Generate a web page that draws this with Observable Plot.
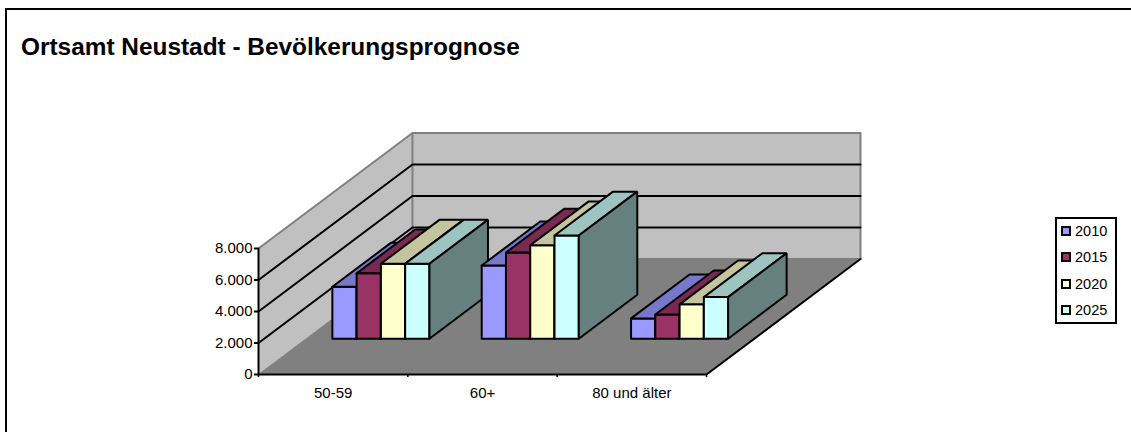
<!DOCTYPE html>
<html><head><meta charset="utf-8">
<script src="https://cdn.jsdelivr.net/npm/d3@7"></script>
<script src="https://cdn.jsdelivr.net/npm/@observablehq/plot@0.6"></script>
<style>
html,body{margin:0;padding:0;background:#fff;overflow:hidden}
#frame{position:absolute;left:5px;top:8px;width:1126px;height:424px;border-left:2px solid #000;border-top:2px solid #000;box-sizing:border-box}
#title{position:absolute;left:21px;top:33px;font:bold 24.4px "Liberation Sans",Arial,sans-serif;color:#000;white-space:nowrap}
#chart{position:absolute;left:0;top:0}
#legend{position:absolute;left:1055px;top:217px;width:62px;height:107px;box-sizing:border-box;border:2px solid #000;font:14.5px "Liberation Sans",Arial,sans-serif;color:#000;background:#fff}
#legend div{position:absolute;left:4px;height:16px;line-height:16px;white-space:nowrap}
#legend i{display:inline-block;width:6px;height:6px;border:2px solid #000;margin-right:4px;vertical-align:0}
</style></head><body>
<div id="frame"></div>
<div id="chart"></div>
<div id="title"></div>
<div id="legend"></div>
<script>
const titleText = "Ortsamt Neustadt - Bevölkerungsprognose";
const categories = ["50-59", "60+", "80 und älter"];
const years = ["2010", "2015", "2020", "2025"];
const v2010 = [3300, 4650, 1290];
const v2015 = [4150, 5470, 1540];
const v2020 = [4760, 5930, 2180];
const v2025 = [4760, 6550, 2640];
const series = [v2010, v2015, v2020, v2025];
const yTicks = [0, 2000, 4000, 6000, 8000];
const frontColors = ["#9999FF", "#993366", "#FFFFCC", "#CCFFFF"];
const topColors = ["#7777CC", "#7A2952", "#C4C49E", "#9DC4C0"];
const sideColor = "#668080";

// oblique projection: a depth d (0 front .. 1 back) shifts a point in both data dimensions
const depthX = 1.031, depthY = 7333;
const P = (c, v, d) => ({x: c + d * depthX, y: v + d * depthY});
const poly = (pts, fill, stroke, strokeWidth) =>
  Plot.line([...pts, pts[0]], {x: "x", y: "y", fill, stroke, strokeWidth, strokeLinejoin: "miter"});
const seg = (pts, stroke, strokeWidth) =>
  Plot.line(pts, {x: "x", y: "y", stroke, strokeWidth});

const maxV = 8000, nCat = categories.length;
const marks = [];
// walls and floor
marks.push(poly([P(0,0,0), P(0,maxV,0), P(0,maxV,1), P(0,0,1)], "#C0C0C0", "none"));
marks.push(poly([P(0,0,1), P(0,maxV,1), P(nCat,maxV,1), P(nCat,0,1)], "#C0C0C0", "none"));
marks.push(poly([P(0,0,0), P(0,0,1), P(nCat,0,1), P(nCat,0,0)], "#808080", "none"));
// wall outlines
marks.push(seg([P(0,0,0), P(0,0,1)], "#808080", 1));
marks.push(seg([P(0,maxV,0), P(0,maxV,1), P(nCat,maxV,1), P(nCat,0,1), P(0,0,1), P(0,maxV,1)], "#808080", 2));
// gridlines
for (const t of yTicks.slice(1, -1))
  marks.push(seg([P(0,t,0), P(0,t,1), P(nCat,t,1)], "#000", 2));
// floor front and right edges, value axis line
marks.push(seg([P(0,maxV,0), P(0,0,0), P(nCat,0,0), P(nCat,0,1)], "#000", 2));

// bars
const d0 = 0.31, d1 = 0.69, gap = 0.175, w = (1 - 2 * gap) / years.length;
categories.forEach((_, c) => {
  series.forEach((vals, s) => {
    const a = c + gap + s * w, b = a + w, v = vals[c];
    marks.push(poly([P(a,0,d0), P(a,v,d0), P(b,v,d0), P(b,0,d0)], frontColors[s], "#000", 2));
    marks.push(poly([P(a,v,d0), P(a,v,d1), P(b,v,d1), P(b,v,d0)], topColors[s], "#000", 2));
    marks.push(poly([P(b,0,d0), P(b,v,d0), P(b,v,d1), P(b,0,d1)], sideColor, "#000", 2));
  });
});

// axes
const axisFont = {fontSize: 15, fontFamily: "'Liberation Sans',Arial,sans-serif", fill: "#000"};
const fmt = d3.formatLocale({decimal: ",", thousands: ".", grouping: [3], currency: ["", "€"]}).format(",d");
marks.push(Plot.axisY({ticks: yTicks, tickFormat: fmt, tickSize: 4, tickPadding: 2, stroke: "#000", strokeWidth: 2, label: null, ...axisFont}));
marks.push(Plot.axisX({ticks: d3.range(nCat + 1), tickFormat: () => "", tickSize: 3, stroke: "#000", strokeWidth: 1.5, label: null}));
marks.push(Plot.axisX({ticks: categories.map((_, i) => i + 0.5), tickFormat: t => categories[Math.floor(t)], tickSize: 0, tickPadding: 13, label: null, ...axisFont}));

const chart = Plot.plot({
  width: 1131, height: 432,
  marginLeft: 258, marginRight: 271, marginTop: 132.5, marginBottom: 58,
  style: {background: "transparent", overflow: "visible"},
  x: {type: "linear", domain: [0, nCat + depthX], axis: null},
  y: {type: "linear", domain: [0, maxV + depthY], axis: null},
  marks
});
document.getElementById("chart").append(chart);
document.getElementById("title").textContent = titleText;
const legend = document.getElementById("legend");
years.forEach((y, i) => {
  const row = document.createElement("div");
  row.style.top = (4 + i * 26.3) + "px";
  const sw = document.createElement("i");
  sw.style.background = frontColors[i];
  row.append(sw, y);
  legend.append(row);
});
</script>
</body></html>
